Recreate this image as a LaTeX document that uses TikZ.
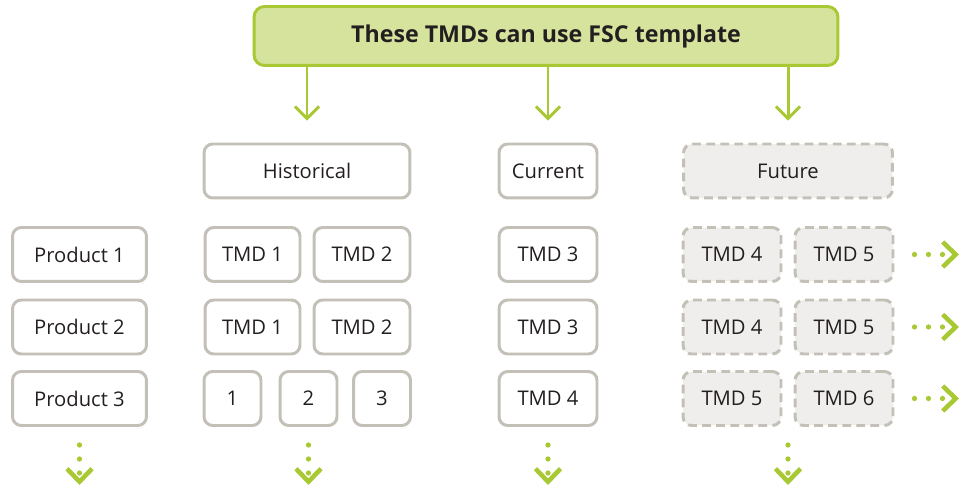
\documentclass[tikz,border=0pt]{standalone}
\usepackage{fontspec}
\setmainfont{Open Sans}
\usetikzlibrary{arrows.meta}
\definecolor{leaf}{HTML}{A9C934}
\definecolor{leaffill}{HTML}{D6E39C}
\definecolor{stone}{HTML}{C3C0B8}
\definecolor{stonefill}{HTML}{EFEEEC}
\definecolor{ink}{HTML}{231F20}

\begin{document}
\begin{tikzpicture}[x=0.02cm,y=-0.02cm,text=ink,font=\fontsize{11.5}{13}\selectfont]
\tikzstyle{box}=[draw=stone,line width=1.7pt,rounded corners=5pt,fill=white,minimum height=1.08cm,inner sep=0]
\tikzstyle{future}=[box,fill=stonefill,dash pattern=on 5pt off 3pt]
\tikzstyle{head}=[draw=leaf,fill=leaffill,line width=1.7pt,rounded corners=6pt,minimum width=11.68cm,minimum height=1.18cm,font=\fontsize{13.2}{15}\selectfont\bfseries]
\tikzstyle{down}=[draw=leaf,line width=1.7pt,-{Straight Barb[length=0.24cm,width=0.48cm]}]
\tikzstyle{more}=[draw=leaf,line width=3pt,line cap=round,dash pattern=on 0pt off 0.28cm,-{Straight Barb[length=0.26cm,width=0.5cm,line width=2.6pt]}]
\useasboundingbox (0,0) rectangle (967,489);

\node[head] (fsc) at (546,36) {These TMDs can use FSC template};
\node[box,minimum width=4.12cm] (hist) at (307,171) {Historical};
\node[box,minimum width=1.96cm] (curr) at (548,171) {Current};
\node[future,minimum width=4.18cm] (fut) at (788,171) {Future};
\foreach \c in {hist,curr,fut}{
\draw[down,shorten >=0.44cm] (fsc.south -| \c.north) -- (\c.north);
};

\foreach \r/\y in {1/254.5,2/327,3/398.5}{
\node[box,minimum width=2.68cm] (p\r) at (79.5,\y) {Product \r};
};
\foreach \r/\y/\a/\b/\c/\d/\e in {1/254.5/1/2/3/4/5,2/327/1/2/3/4/5,3/398.5/0/0/4/5/6}{
\ifnum\a>0
\node[box,minimum width=1.9cm] (h\r a) at (252.5,\y) {TMD \a};
\node[box,minimum width=1.92cm] (h\r b) at (362,\y) {TMD \b};
\fi
\node[box,minimum width=1.96cm] (c\r) at (548,\y) {TMD \c};
\node[future,minimum width=1.96cm] (f\r a) at (732,\y) {TMD \d};
\node[future,minimum width=1.96cm] (f\r b) at (844,\y) {TMD \e};
\coordinate (next\r) at (959,\y);
\draw[more,shorten <=0.4cm] (f\r b.east) -- (next\r);
};
\foreach \n/\x in {1/232.5,2/308.5,3/382}{
\node[box,minimum width=1.14cm] (s\n) at (\x,398.5) {\n};
};

\foreach \n/\x in {p3/79.5,s2/308.5,c3/548,fut/788}{
\coordinate (end\n) at (\x,485);
};
\draw[more,shorten <=0.36cm] (p3.south) -- (endp3);
\draw[more,shorten <=0.36cm] (s2.south) -- (ends2);
\draw[more,shorten <=0.36cm] (c3.south) -- (endc3);
\draw[more,shorten <=0.36cm] (f3a.south -| fut.south) -- (endfut);
\end{tikzpicture}
\end{document}
